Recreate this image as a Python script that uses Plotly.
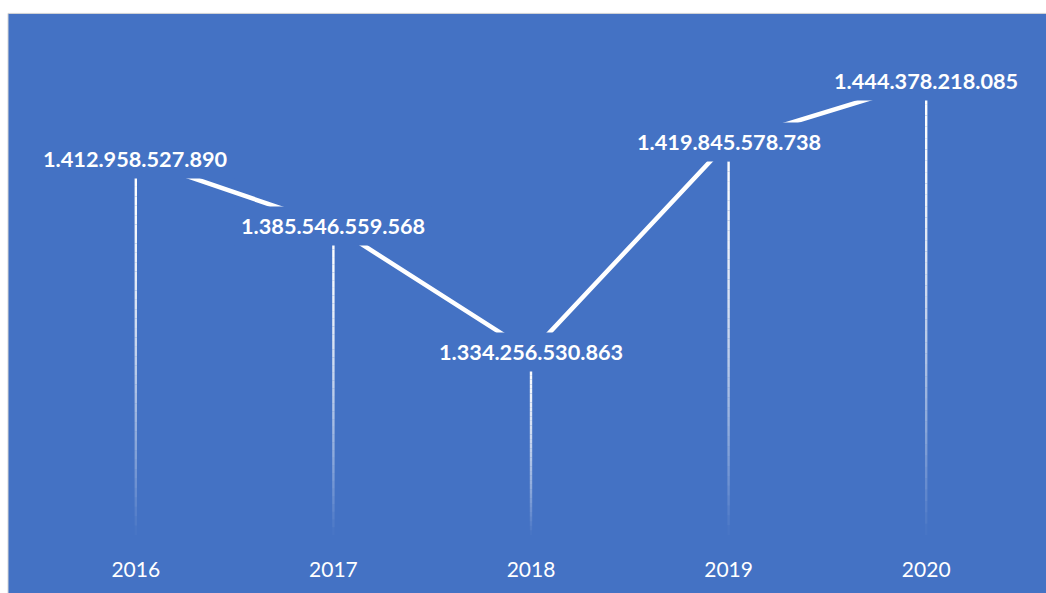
import plotly.graph_objects as go

years = ["2016", "2017", "2018", "2019", "2020"]
values = [1412958527890, 1385546559568, 1334256530863, 1419845578738, 1444378218085]

BLUE = "#4472C4"
Y_MIN = 1260e9
Y_MAX = 1460e9

W, H = 1046, 593
ML, MR, MT, MB = 37, 21, 43, 51
pw, ph = W - ML - MR, H - MT - MB

fig = go.Figure()

# Gradient drop lines (segments of decreasing opacity)
N = 40
for yr, v in zip(years, values):
    for i in range(N):
        y0 = v - (v - Y_MIN) * i / N
        y1 = v - (v - Y_MIN) * (i + 1) / N
        t = (i + 0.5) / N
        a = max(0.0, 1 - t ** 1.7)
        fig.add_trace(go.Scatter(x=[yr, yr], y=[y0, y1], mode="lines",
                                 line=dict(color="white", width=2.4),
                                 opacity=a, hoverinfo="skip", showlegend=False))

# Connecting line
fig.add_trace(go.Scatter(x=years, y=values, mode="lines",
                         line=dict(color="white", width=4.5),
                         hoverinfo="skip", showlegend=False))

# Labels with panel-coloured boxes hiding the line ends
annotations = []
for idx, v in enumerate(values):
    annotations.append(dict(x=idx, y=v, xref="x", yref="y",
                            text=f"<b>{v:,}</b>".replace(",", "."),
                            showarrow=False, bgcolor=BLUE, borderpad=6,
                            font=dict(family="Lato", size=21.7, color="white"),
                            xanchor="center", yanchor="middle"))

fig.update_layout(
    width=W, height=H,
    margin=dict(l=ML, r=MR, t=MT, b=MB),
    paper_bgcolor="white", plot_bgcolor="rgba(0,0,0,0)",
    shapes=[dict(type="rect", xref="paper", yref="paper",
                 x0=(8 - ML) / pw, x1=(W + 10 - ML) / pw,
                 y0=-(MB + 10) / ph, y1=(H - 13 - MB) / ph,
                 fillcolor=BLUE, line=dict(color="#D4D4D4", width=1),
                 layer="below")],
    annotations=annotations,
    xaxis=dict(type="category", range=[-0.5, 4.5], showgrid=False,
               zeroline=False, showline=False, ticks="",
               tickfont=dict(family="Lato", size=21, color="white"),
               ticklabelstandoff=20),
    yaxis=dict(range=[Y_MIN, Y_MAX], showgrid=False, zeroline=False,
               showline=False, showticklabels=False, ticks=""),
    showlegend=False,
)

fig.write_html("out.html")
